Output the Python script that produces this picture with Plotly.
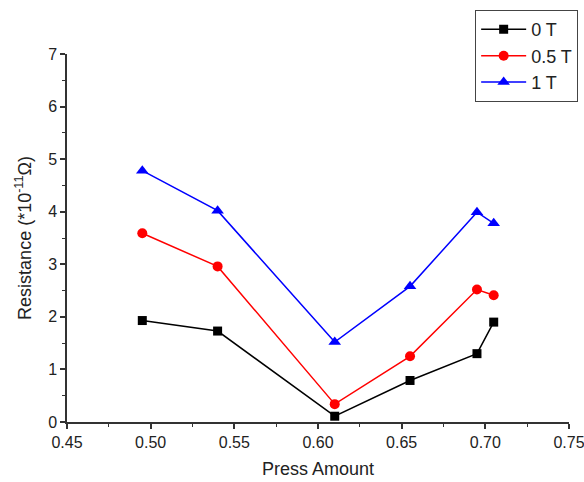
import plotly.graph_objects as go

press = [0.495, 0.54, 0.61, 0.655, 0.695, 0.705]
r_0T = [1.93, 1.73, 0.11, 0.79, 1.30, 1.90]
r_05T = [3.59, 2.96, 0.34, 1.25, 2.52, 2.41]
r_1T = [4.78, 4.02, 1.52, 2.58, 3.99, 3.78]
names = ["0 T", "0.5 T", "1 T"]
colors = ["#000000", "#ff0000", "#0000ff"]
symbols = ["square", "circle", "triangle-up"]
sizes = [9, 10, 11]
x_ticks = [0.45, 0.50, 0.55, 0.60, 0.65, 0.70, 0.75]
y_ticks = [0, 1, 2, 3, 4, 5, 6, 7]

fig = go.Figure()
for ys, n, c, s, sz in zip([r_0T, r_05T, r_1T], names, colors, symbols, sizes):
    fig.add_trace(go.Scatter(
        x=press, y=ys, mode="lines+markers", name=n,
        line=dict(color=c, width=1.5),
        marker=dict(color=c, symbol=s, size=sz),
    ))

font = "Liberation Sans, Arial, sans-serif"
fig.update_layout(
    width=584, height=482,
    margin=dict(l=67, r=15, t=54, b=60, autoexpand=False),
    plot_bgcolor="white", paper_bgcolor="white",
    font=dict(family=font, color="#222222", size=14),
    showlegend=True,
    legend=dict(
        xref="container", yref="container",
        x=0.99, y=0.979, xanchor="right", yanchor="top",
        bordercolor="#444444", borderwidth=1, bgcolor="white",
        font=dict(size=18, family=font, color="#222222"),
        itemwidth=45, tracegroupgap=0,
    ),
    xaxis=dict(
        range=[0.45, 0.75], tickvals=x_ticks,
        ticktext=[f"{v:.2f}" for v in x_ticks],
        showgrid=False, zeroline=False, automargin=False,
        ticklabeloverflow="allow",
        showline=True, linecolor="#333333", linewidth=1.5,
        ticks="outside", ticklen=5, tickwidth=1.5, tickcolor="#333333",
        minor=dict(ticks="outside", ticklen=3, tickwidth=1.2, tickcolor="#333333", dtick=0.025, tick0=0.45),
        tickfont=dict(size=16),
        title=dict(text="Press Amount", font=dict(size=18), standoff=12),
    ),
    yaxis=dict(
        range=[0, 7], tickvals=y_ticks,
        showgrid=False, zeroline=False, automargin=False,
        ticklabeloverflow="allow",
        showline=True, linecolor="#333333", linewidth=1.5,
        ticks="outside", ticklen=5, tickwidth=1.5, tickcolor="#333333",
        minor=dict(ticks="outside", ticklen=3, tickwidth=1.2, tickcolor="#333333", dtick=0.5, tick0=0),
        tickfont=dict(size=16),
        title=dict(text="Resistance (*10<sup>-11</sup>Ω)", font=dict(size=18), standoff=12),
    ),
)

fig.write_html("out.html")
